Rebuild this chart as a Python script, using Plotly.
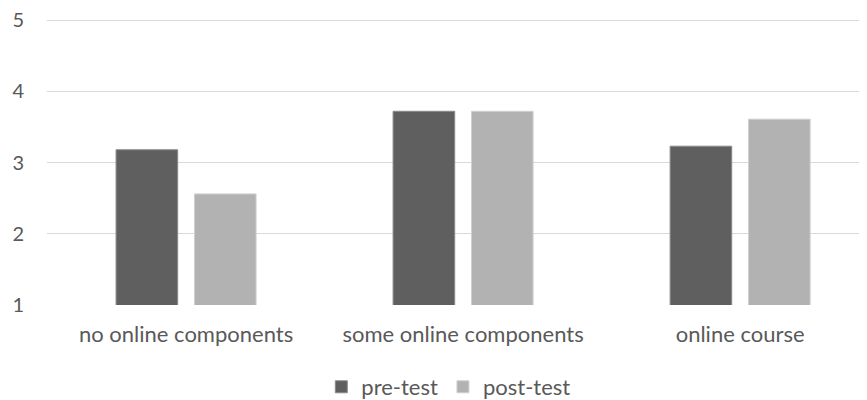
import plotly.graph_objects as go

categories = ["no online components", "some online components", "online course"]
pre_test = [3.18, 3.72, 3.23]
post_test = [2.56, 3.72, 3.61]
y_ticks = [1, 2, 3, 4, 5]

font_family = "Lato, Open Sans, sans-serif"
text_color = "#595959"

fig = go.Figure()
fig.add_trace(go.Bar(name="pre-test", x=categories, y=pre_test,
                     marker=dict(color="#5f5f5f", line=dict(color="#8a8a8a", width=1))))
fig.add_trace(go.Bar(name="post-test", x=categories, y=post_test,
                     marker=dict(color="#b2b2b2", line=dict(color="#d0d0d0", width=1))))

# page body has an 8px margin; the figure is made a bit taller than the window so
# the legend never forces the bottom margin to grow (the overflow is simply cropped)
fig.update_layout(
    width=859, height=420,
    margin=dict(l=39, r=0, t=10, b=123),
    paper_bgcolor="white", plot_bgcolor="white",
    barmode="group", bargap=0.434, bargroupgap=0.214,
    font=dict(family=font_family, size=22, color=text_color),
    showlegend=True,
    legend=dict(orientation="h", x=0.49, xanchor="center", y=-0.2125, yanchor="top",
                font=dict(size=22, color=text_color),
                traceorder="normal"),
    xaxis=dict(type="category", range=[-0.502, 2.458], showgrid=False,
               showline=False, ticks="", ticklabelstandoff=14, automargin=False,
               tickfont=dict(size=22, color=text_color)),
    yaxis=dict(range=[1, 5.03], tickvals=y_ticks, showgrid=True, gridcolor="#d9d9d9",
               gridwidth=1, zeroline=False, showline=False, ticks="", automargin=False,
               ticklabeloverflow="allow",
               ticklabelstandoff=22, tickfont=dict(size=20, color=text_color)),
)
fig.write_html("out.html")
